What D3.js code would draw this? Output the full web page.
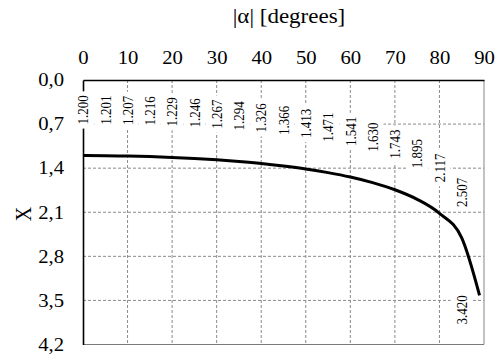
<!DOCTYPE html>
<html>
<head>
<meta charset="utf-8">
<script src="https://cdn.jsdelivr.net/npm/d3@7/dist/d3.min.js"></script>
<style>
  html, body { margin: 0; padding: 0; background: #fff; }
  svg { display: block; }
  svg text { font-family: "Liberation Serif", "Times New Roman", Tinos, "DejaVu Serif", serif; }
</style>
</head>
<body>
<svg id="chart" width="496" height="356"></svg>
<script>
// ---- data ----
const alphaDeg = [0, 5, 10, 15, 20, 25, 30, 35, 40, 45, 50, 55, 60, 65, 70, 75, 80, 85, 89];
const xValues  = [1.200, 1.201, 1.207, 1.216, 1.229, 1.246, 1.267, 1.294, 1.326, 1.366,
                  1.413, 1.471, 1.541, 1.630, 1.743, 1.895, 2.117, 2.507, 3.420];
const xTickValues = [0, 10, 20, 30, 40, 50, 60, 70, 80, 90];
const yTickValues = [0, 0.7, 1.4, 2.1, 2.8, 3.5, 4.2];
const yTickLabels = ["0,0", "0,7", "1,4", "2,1", "2,8", "3,5", "4,2"];
const xTitle = "|α| [degrees]";
const yTitle = "X";

(function () {
// ---- layout ----
const svg = d3.select("#chart");
const pL = 83, pR = 484, pT = 80, pB = 344.5;
const sx = 1.15; // horizontal stretch of the lettering
const x = d3.scaleLinear().domain([0, 90]).range([pL, pR]);
const y = d3.scaleLinear().domain([0, 4.2]).range([pT, pB]);
const gridColor = "#8a8a8a";
const stretch = (tx) => `translate(${tx},0) scale(${sx},1) translate(${-tx},0)`;

// gridlines
const g = svg.append("g");
g.selectAll("line.vg").data(xTickValues.filter(d => d > 0 && d < 90)).join("line")
  .attr("x1", d => x(d)).attr("x2", d => x(d)).attr("y1", pT).attr("y2", pB)
  .attr("stroke", gridColor).attr("stroke-width", 1).attr("stroke-dasharray", "3,2");
g.selectAll("line.hg").data(yTickValues.filter(d => d > 0)).join("line")
  .attr("x1", pL).attr("x2", pR).attr("y1", d => y(d)).attr("y2", d => y(d))
  .attr("stroke", gridColor).attr("stroke-width", 1).attr("stroke-dasharray", "3,2");

// frame: right & bottom gray
svg.append("line").attr("x1", pR).attr("x2", pR).attr("y1", pT).attr("y2", pB)
  .attr("stroke", "#9a9a9a").attr("stroke-width", 1.2);
svg.append("line").attr("x1", pL).attr("x2", pR).attr("y1", pB).attr("y2", pB)
  .attr("stroke", "#7a7a7a").attr("stroke-width", 1.2);

// axes (top & left, black) via d3 axes
const xAxis = d3.axisTop(x).tickValues(xTickValues).tickSize(0).tickPadding(16)
  .tickFormat(d3.format("d"));
const xa = svg.append("g").attr("transform", `translate(0,${pT})`).call(xAxis);
xa.attr("font-family", null);
xa.select(".domain").attr("stroke", "#000").attr("stroke-width", 1.6);
xa.selectAll("text").attr("font-size", 18).attr("fill", "#000").attr("dy", "0")
  .attr("transform", stretch(0));

const yAxis = d3.axisLeft(y).tickValues(yTickValues).tickSize(0).tickPadding(19)
  .tickFormat((d, i) => yTickLabels[i]);
const ya = svg.append("g").attr("transform", `translate(${pL},0)`).call(yAxis);
ya.attr("font-family", null);
ya.select(".domain").attr("stroke", "#000").attr("stroke-width", 1.6);
ya.selectAll("text").attr("font-size", 18).attr("fill", "#000")
  .attr("transform", stretch(-19));

// titles
svg.append("text").attr("x", 289).attr("y", 23).attr("text-anchor", "middle")
  .attr("font-size", 20).attr("fill", "#000").attr("transform", stretch(289)).text(xTitle);
svg.append("text").attr("transform", `translate(23,214) scale(${sx},1) rotate(-90)`)
  .attr("text-anchor", "middle").attr("dy", "0.35em")
  .attr("font-size", 20).attr("fill", "#000").text(yTitle);

// data labels with white backgrounds
const lastIdx = alphaDeg.length - 1;
alphaDeg.forEach((a, i) => {
  const v = xValues[i];
  let gx, gy, anchor;
  if (i === lastIdx) { gx = x(a) - 18; gy = y(v); anchor = "end"; }
  else { gx = x(a); gy = y(v) - 31; anchor = "start"; }
  const lg = svg.append("g").attr("transform", `translate(${gx},${gy}) scale(${sx},1) rotate(-90)`);
  const rect = lg.append("rect").attr("fill", "#fff");
  const t = lg.append("text").attr("text-anchor", anchor).attr("dy", "0.35em")
    .attr("font-size", 13).attr("fill", "#000")
    .text(v.toFixed(3));
  const bb = t.node().getBBox();
  rect.attr("x", bb.x - 4).attr("width", bb.width + 8).attr("y", -9.5).attr("height", 19);
});

// curve
const line = d3.line().x((d, i) => x(alphaDeg[i])).y(d => y(d)).curve(d3.curveMonotoneX);
svg.append("path").datum(xValues).attr("d", line)
  .attr("fill", "none").attr("stroke", "#000").attr("stroke-width", 3)
  .attr("stroke-linejoin", "round");
})();
</script>
</body>
</html>
